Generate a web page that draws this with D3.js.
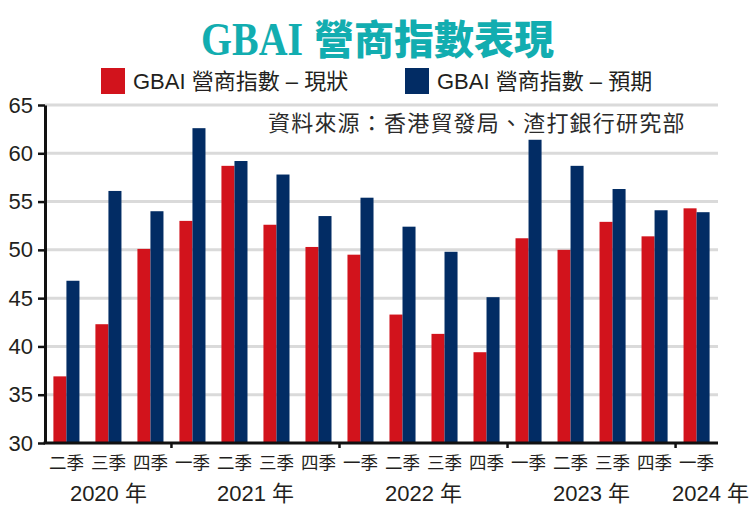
<!DOCTYPE html>
<html>
<head>
<meta charset="utf-8">
<script src="https://cdn.jsdelivr.net/npm/d3@7"></script>
<style>
  html, body { margin: 0; padding: 0; background: #fff; }
  svg { display: block; }
</style>
</head>
<body>
<svg id="chart" width="755" height="505"></svg>
<script>
// ---- data ----
const quarters = ["二季","三季","四季","一季","二季","三季","四季","一季","二季","三季","四季","一季","二季","三季","四季","一季"];
const currentIdx = [36.9, 42.3, 50.1, 53.0, 58.7, 52.6, 50.3, 49.5, 43.3, 41.3, 39.4, 51.2, 50.0, 52.9, 51.4, 54.3];
const expectIdx  = [46.8, 56.1, 54.0, 62.6, 59.2, 57.8, 53.5, 55.4, 52.4, 49.8, 45.1, 61.4, 58.7, 56.3, 54.1, 53.9];
const yearLabels = ["2020 年", "2021 年", "2022 年", "2023 年", "2024 年"];
const yearFirst  = [0, 3, 7, 11, 15];
const yearLast   = [2, 6, 10, 14, 15];
const yTicks = [30, 35, 40, 45, 50, 55, 60, 65];
const seriesNames = ["GBAI 營商指數 – 現狀", "GBAI 營商指數 – 預期"];
const titleLatin = "GBAI";
const titleCJK = "營商指數表現";
const sourceText = "資料來源：香港貿發局、渣打銀行研究部";

// ---- styles ----
const W = 755, H = 505;
const RED = "#d2131c", NAVY = "#022c64", TEAL = "#12adb0", INK = "#231f20";
const FONT = "'Liberation Sans', 'Noto Sans CJK TC', sans-serif";

const svg = d3.select("#chart");
const plotL = 45, plotR = 718, plotT = 105, plotB = 443;

const x = d3.scaleBand().domain(d3.range(quarters.length)).range([plotL, plotR])
  .paddingInner(0.38).paddingOuter(0.2);
const y = d3.scaleLinear().domain([30, 65]).range([plotB, plotT]);
const bw = x.bandwidth() / 2;

// title
svg.append("text")
  .attr("x", 201).attr("y", 55)
  .attr("font-family", "'Liberation Serif', serif").attr("font-weight", "bold")
  .attr("font-size", 46).attr("fill", TEAL)
  .attr("textLength", 102).attr("lengthAdjust", "spacingAndGlyphs")
  .text(titleLatin);
svg.append("text")
  .attr("x", 314).attr("y", 54)
  .attr("font-family", "'Noto Sans CJK TC', sans-serif").attr("font-weight", 900)
  .attr("font-size", 40).attr("fill", TEAL)
  .text(titleCJK);

// legend
const legendX = [101, 405];
[RED, NAVY].forEach((c, i) => {
  svg.append("rect").attr("x", legendX[i]).attr("y", 68).attr("width", 24).attr("height", 26).attr("fill", c);
  svg.append("text").attr("x", legendX[i] + 32).attr("y", 89)
    .attr("font-family", FONT).attr("font-size", 22).attr("fill", INK)
    .text(seriesNames[i]);
});

// gridlines
svg.append("g").selectAll("line").data(yTicks.filter(t => t > 30)).join("line")
  .attr("x1", plotL).attr("x2", plotR)
  .attr("y1", d => y(d)).attr("y2", d => y(d))
  .attr("stroke", "#dadada").attr("stroke-width", 3);

// source
svg.append("text").attr("x", 268).attr("y", 131)
  .attr("font-family", FONT).attr("font-size", 22).attr("fill", "#2b2b2b")
  .attr("letter-spacing", 1.2)
  .text(sourceText);

// bars
const g = svg.append("g");
g.selectAll("rect.cur").data(currentIdx).join("rect").attr("class", "cur")
  .attr("x", (d, i) => x(i)).attr("width", bw)
  .attr("y", d => y(d)).attr("height", d => y(30) - y(d))
  .attr("fill", RED);
g.selectAll("rect.exp").data(expectIdx).join("rect").attr("class", "exp")
  .attr("x", (d, i) => x(i) + bw).attr("width", bw)
  .attr("y", d => y(d)).attr("height", d => y(30) - y(d))
  .attr("fill", NAVY);

// y axis
const yAxis = svg.append("g").attr("transform", `translate(${plotL},0)`)
  .call(d3.axisLeft(y).tickValues(yTicks).tickSize(7).tickSizeOuter(0).tickPadding(5));
yAxis.select(".domain").attr("stroke", "#111").attr("stroke-width", 3);
yAxis.selectAll(".tick line").attr("stroke", "#111").attr("stroke-width", 2.5);
yAxis.selectAll(".tick text").attr("font-family", FONT).attr("font-size", 22).attr("fill", INK);

// x axis (quarter labels)
const xAxis = svg.append("g").attr("transform", `translate(0,${plotB})`)
  .call(d3.axisBottom(x).tickFormat(i => quarters[i]).tickSize(0).tickPadding(14));
xAxis.select(".domain").remove();
xAxis.selectAll(".tick text").attr("font-family", FONT).attr("font-size", 17.5).attr("fill", INK);

// baseline
svg.append("line").attr("x1", plotL - 1.5).attr("x2", plotR).attr("y1", plotB).attr("y2", plotB)
  .attr("stroke", "#111").attr("stroke-width", 3);

// year separators
const seps = yearFirst.slice(1).map(f => (x(f - 1) + x.bandwidth() + x(f)) / 2);
svg.append("g").selectAll("line").data(seps).join("line")
  .attr("x1", d => d).attr("x2", d => d).attr("y1", plotB).attr("y2", plotB + 5)
  .attr("stroke", "#111").attr("stroke-width", 2.5);

// year labels (last one pushed to the right edge, as in the original)
svg.append("g").selectAll("text").data(yearLabels).join("text")
  .attr("font-family", FONT).attr("font-size", 22).attr("fill", INK)
  .attr("text-anchor", "middle").attr("y", 501)
  .text(d => d)
  .attr("x", function(d, i) {
    const c = (x(yearFirst[i]) + x(yearLast[i]) + x.bandwidth()) / 2;
    const half = this.getComputedTextLength() / 2;
    return i === yearLabels.length - 1 ? W - 6 - half : c;
  });
</script>
</body>
</html>
